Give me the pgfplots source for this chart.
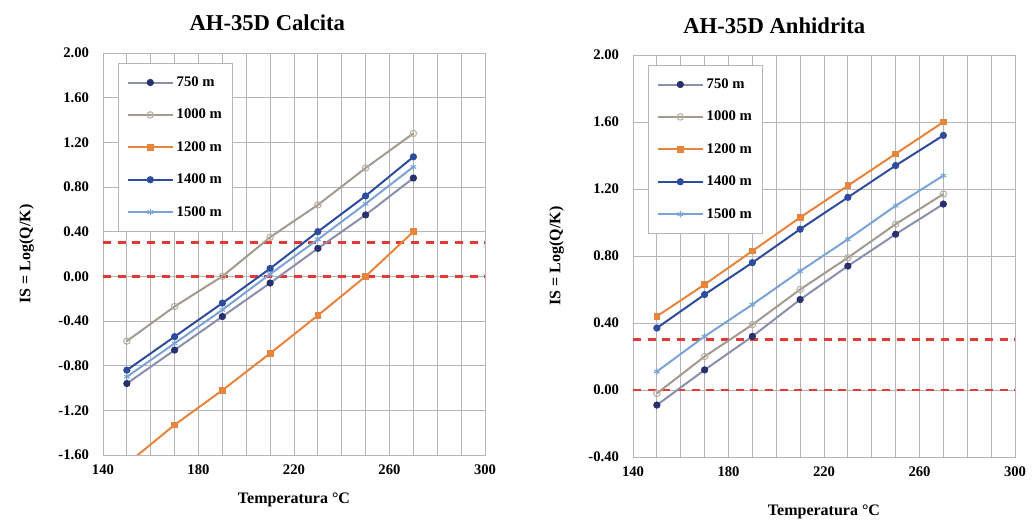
\documentclass[border=0pt]{standalone}
\usepackage{fontspec}
\setmainfont{Liberation Serif}
\usepackage{pgfplots}
\pgfplotsset{compat=1.18}

\definecolor{l750}{HTML}{8A90AC}
\definecolor{m750}{HTML}{28306E}
\definecolor{l1000}{HTML}{A39B90}
\definecolor{m1000}{HTML}{B8AFA5}
\definecolor{c1200}{HTML}{E8843C}
\definecolor{c1400}{HTML}{2E4C9E}
\definecolor{c1500}{HTML}{7BA3D6}
\definecolor{redline}{HTML}{E53935}
\definecolor{gridc}{HTML}{B5B5B5}

\pgfplotsset{
  panel/.style={
    scale only axis,
    width=286.5pt, height=301.5pt,
    xmin=140, xmax=300,
    xtick={140,180,220,260,300},
    minor x tick num=3,
    ytick distance=0.4,
    xmajorgrids, xminorgrids, ymajorgrids,
    major grid style={gridc, line width=0.7pt},
    minor grid style={gridc, line width=0.6pt},
    axis line style={gridc},
    tick style={draw=none},
    every tick label/.append style={font=\fontsize{11}{12}\selectfont\bfseries},
    /pgf/number format/.cd, assume math mode=true,
    /pgfplots/.cd,
    yticklabel style={xshift=-7pt, /pgf/number format/.cd, fixed, fixed zerofill, precision=2},
    xticklabel style={yshift=-4pt, /pgf/number format/.cd, fixed, precision=0},
    title style={font=\fontsize{17}{19}\selectfont\bfseries, anchor=center},
    label style={font=\fontsize{12}{14}\selectfont\bfseries},
    xlabel={Temperatura °C},
    ylabel={IS = Log(Q/K)},
    ylabel style={at={(axis description cs:-0.2,0.5)}, anchor=center},
    legend cell align=left,
    legend style={at={(0.04,0.975)}, anchor=north west, draw=gridc,
      font=\fontsize{11}{12}\selectfont\bfseries, row sep=11.5pt,
      inner xsep=6pt, inner ysep=8pt},
    legend image code/.code={
      \draw[mark repeat=2,mark phase=2] plot coordinates {(0cm,0cm) (0.6cm,0cm) (1.2cm,0cm)};},
    every axis plot/.append style={line width=1.5pt, mark size=2.4pt},
  },
  s750/.style={l750, mark=*, mark options={fill=m750, draw=m750, line width=0.6pt}},
  s1000/.style={l1000, mark=o, mark options={draw=m1000, fill=white, line width=0.8pt}},
  s1200/.style={c1200, mark=square*, mark options={fill=c1200, draw=c1200, scale=0.9, line width=0.6pt}},
  s1400/.style={c1400, mark=*, mark options={fill=c1400, draw=c1400, line width=0.6pt}},
  s1500/.style={c1500, mark=asterisk, mark options={draw=c1500, line width=0.8pt}},
  redd/.style={redline, line width=2pt, dash pattern=on 6pt off 5pt, forget plot},
}

\begin{document}
\begin{tikzpicture}
\useasboundingbox (0,0) rectangle (774.75pt,390pt);

\begin{axis}[panel,
  at={(77.25pt,48.75pt)}, anchor=south west,
  ymin=-1.6, ymax=2.0,
  title={AH-35D Calcita},
  title style={at={(axis description cs:0.43,1)}, yshift=17pt},
  xlabel style={at={(axis description cs:0.5,0)}, anchor=center, yshift=-34pt},
]
\addplot[redd] coordinates {(140,0.3) (300,0.3)};
\addplot[redd] coordinates {(140,0.0) (300,0.0)};
\addplot[s750] coordinates {(150,-0.96) (170,-0.66) (190,-0.36) (210,-0.06) (230,0.25) (250,0.55) (270,0.88)};
\addplot[s1000] coordinates {(150,-0.58) (170,-0.27) (190,0.00) (210,0.35) (230,0.64) (250,0.97) (270,1.28)};
\addplot[s1200] coordinates {(150,-1.68) (170,-1.33) (190,-1.02) (210,-0.69) (230,-0.35) (250,0.00) (270,0.40)};
\addplot[s1400] coordinates {(150,-0.84) (170,-0.54) (190,-0.24) (210,0.07) (230,0.40) (250,0.72) (270,1.07)};
\addplot[s1500] coordinates {(150,-0.90) (170,-0.60) (190,-0.30) (210,0.02) (230,0.33) (250,0.65) (270,0.98)};
\legend{750 m,1000 m,1200 m,1400 m,1500 m}
\end{axis}

\begin{axis}[panel,
  at={(474.75pt,47.25pt)}, anchor=south west,
  ymin=-0.4, ymax=2.0,
  title={AH-35D Anhidrita},
  title style={at={(axis description cs:0.37,1)}, yshift=16pt},
  xlabel style={at={(axis description cs:0.5,0)}, anchor=center, yshift=-41pt},
]
\addplot[redd] coordinates {(140,0.3) (300,0.3)};
\addplot[redd] coordinates {(140,0.0) (300,0.0)};
\addplot[s750] coordinates {(150,-0.09) (170,0.12) (190,0.32) (210,0.54) (230,0.74) (250,0.93) (270,1.11)};
\addplot[s1000] coordinates {(150,-0.02) (170,0.20) (190,0.39) (210,0.60) (230,0.79) (250,0.99) (270,1.17)};
\addplot[s1200] coordinates {(150,0.44) (170,0.63) (190,0.83) (210,1.03) (230,1.22) (250,1.41) (270,1.60)};
\addplot[s1400] coordinates {(150,0.37) (170,0.57) (190,0.76) (210,0.96) (230,1.15) (250,1.34) (270,1.52)};
\addplot[s1500] coordinates {(150,0.11) (170,0.32) (190,0.51) (210,0.71) (230,0.90) (250,1.10) (270,1.28)};
\legend{750 m,1000 m,1200 m,1400 m,1500 m}
\end{axis}
\end{tikzpicture}
\end{document}
